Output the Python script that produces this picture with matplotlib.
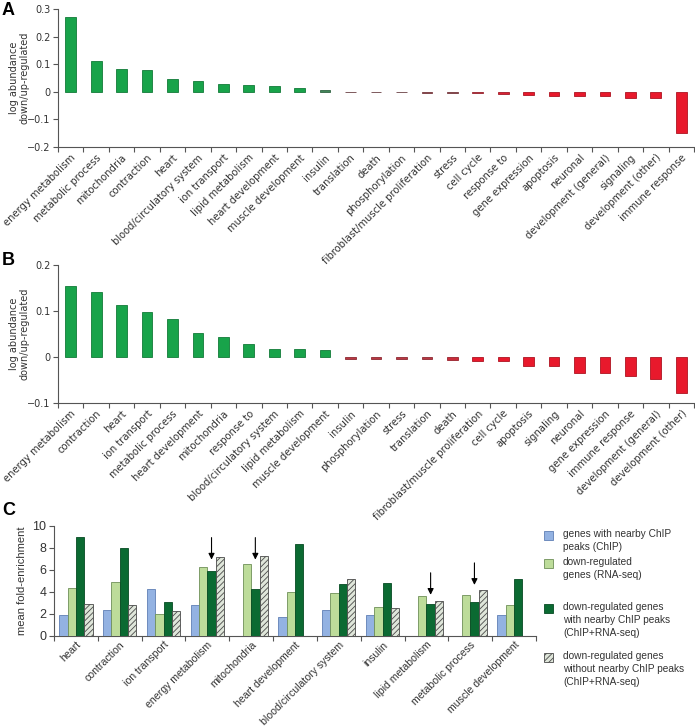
import numpy as np
import matplotlib
matplotlib.use("Agg")
import matplotlib.pyplot as plt
from matplotlib.colors import LinearSegmentedColormap, TwoSlopeNorm, to_rgb
from matplotlib.patches import Rectangle

# ---------------- data ----------------
cats_a = ["energy metabolism", "metabolic process", "mitochondria", "contraction", "heart",
          "blood/circulatory system", "ion transport", "lipid metabolism", "heart development",
          "muscle development", "insulin", "translation", "death", "phosphorylation",
          "fibroblast/muscle proliferation", "stress", "cell cycle", "response to",
          "gene expression", "apoptosis", "neuronal", "development (general)", "signaling",
          "development (other)", "immune response"]
vals_a = [0.270, 0.111, 0.081, 0.078, 0.046, 0.039, 0.027, 0.024, 0.022, 0.012, 0.006,
          -0.002, -0.002, -0.002, -0.003, -0.003, -0.006, -0.007, -0.010, -0.014, -0.014,
          -0.015, -0.022, -0.024, -0.148]

cats_b = ["energy metabolism", "contraction", "heart", "ion transport", "metabolic process",
          "heart development", "mitochondria", "response to", "blood/circulatory system",
          "lipid metabolism", "muscle development", "insulin", "phosphorylation", "stress",
          "translation", "death", "fibroblast/muscle proliferation", "cell cycle", "apoptosis",
          "signaling", "neuronal", "gene expression", "immune response",
          "development (general)", "development (other)"]
vals_b = [0.155, 0.141, 0.112, 0.097, 0.082, 0.053, 0.043, 0.028, 0.018, 0.018, 0.015,
          -0.005, -0.005, -0.005, -0.005, -0.006, -0.008, -0.008, -0.019, -0.020, -0.034,
          -0.034, -0.041, -0.047, -0.079]

cats_c = ["heart", "contraction", "ion transport", "energy metabolism", "mitochondria",
          "heart development", "blood/circulatory system", "insulin", "lipid metabolism",
          "metabolic process", "muscle development"]
chip = [1.9, 2.3, 4.25, 2.8, np.nan, 1.7, 2.35, 1.9, np.nan, np.nan, 1.85]
rnaseq = [4.3, 4.9, 1.95, 6.2, 6.5, 3.95, 3.9, 2.55, 3.55, 3.65, 2.8]
chip_rna = [9.0, 7.95, 3.05, 5.9, 4.25, 8.3, 4.7, 4.8, 2.9, 3.05, 5.1]
no_chip_rna = [2.85, 2.8, 2.2, 7.15, 7.25, np.nan, 5.1, 2.5, 3.15, 4.1, np.nan]
legend_c = ["genes with nearby ChIP\npeaks (ChIP)",
            "down-regulated\ngenes (RNA-seq)",
            "down-regulated genes\nwith nearby ChIP peaks\n(ChIP+RNA-seq)",
            "down-regulated genes\nwithout nearby ChIP peaks\n(ChIP+RNA-seq)"]
arrow_cats = ["energy metabolism", "mitochondria", "lipid metabolism", "metabolic process"]
arrow_tips = [6.9, 6.9, 3.7, 4.6]

# ---------------- style ----------------
TXT = "#333333"
SPN = "#555555"
plt.rcParams["hatch.linewidth"] = 0.6

fig = plt.figure(figsize=(6.95, 7.26), dpi=100)
W, H = 695.0, 726.0

def ax_px(l, t, r, b):
    return fig.add_axes([l / W, 1 - b / H, (r - l) / W, (b - t) / H])

cmap = LinearSegmentedColormap.from_list("rg", ["#e8192c", "#6e6868", "#18a34a"])
norm = TwoSlopeNorm(vmin=-0.008, vcenter=0.0, vmax=0.012)

def style_ab(ax, cats, ylim, yticks, ylabels):
    n = len(cats)
    ax.set_xlim(-0.5, n - 0.5)
    ax.set_ylim(*ylim)
    for s in ["top", "right"]:
        ax.spines[s].set_visible(False)
    for s in ["left", "bottom"]:
        ax.spines[s].set_color(SPN)
        ax.spines[s].set_linewidth(0.8)
    ax.set_xticks(np.arange(n))
    ax.set_xticklabels(cats, rotation=45, ha="right", va="top", rotation_mode="anchor",
                       fontsize=7.2, color=TXT, family="DejaVu Sans")
    ax.tick_params(axis="x", which="major", length=0, pad=4)
    ax.set_xticks(np.arange(-0.5, n, 1), minor=True)
    ax.tick_params(axis="x", which="minor", length=3.5, direction="out", color=SPN, width=0.8)
    ax.set_yticks(yticks)
    ax.set_yticklabels(ylabels, fontsize=7, color=TXT, family="DejaVu Sans")
    ax.tick_params(axis="y", length=3.5, direction="out", color=SPN, width=0.8, pad=2)
    ax.set_ylabel("log abundance\ndown/up-regulated", fontsize=7, color=TXT,
                  family="DejaVu Sans", linespacing=1.1)
    ax.yaxis.set_label_coords(-0.045, 0.5)

def draw_ab(ax, cats, vals):
    x = np.arange(len(cats))
    cols = [cmap(float(np.clip(norm(v), 0, 1))) for v in vals]
    edges = [tuple(np.array(to_rgb(c)) * 0.75) for c in cols]
    ax.bar(x, vals, width=0.42, color=cols, edgecolor=edges, linewidth=0.6, zorder=3)

# Panel A
axA = ax_px(58, 9, 694, 147)
draw_ab(axA, cats_a, vals_a)
style_ab(axA, cats_a, (-0.2, 0.3), [-0.2, -0.1, 0, 0.1, 0.2, 0.3],
         ["\u22120.2", "\u22120.1", "0", "0.1", "0.2", "0.3"])

# Panel B
axB = ax_px(58, 265, 694, 403)
draw_ab(axB, cats_b, vals_b)
style_ab(axB, cats_b, (-0.1, 0.2), [-0.1, 0, 0.1, 0.2], ["\u22120.1", "0", "0.1", "0.2"])

# Panel C
axC = ax_px(54, 525.5, 536, 635.5)
xc = np.arange(len(cats_c))
w = 0.19
series = [chip, rnaseq, chip_rna, no_chip_rna]
faces = ["#93b2e2", "#bddc9a", "#0b6a32", "#dfe6da"]
edgec = ["#5f7fb5", "#6f8f58", "#064a22", "#4a4a4a"]
hatches = [None, None, None, "//////"]
for i, s in enumerate(series):
    axC.bar(xc + (i - 1.5) * w, s, width=w, color=faces[i], edgecolor=edgec[i],
            linewidth=0.6, hatch=hatches[i], zorder=3)
axC.set_xlim(-0.5, len(cats_c) - 0.5)
axC.set_ylim(0, 10)
for s in ["top", "right"]:
    axC.spines[s].set_visible(False)
for s in ["left", "bottom"]:
    axC.spines[s].set_color(SPN)
    axC.spines[s].set_linewidth(0.8)
axC.set_yticks([0, 2, 4, 6, 8, 10])
axC.set_yticklabels(["0", "2", "4", "6", "8", "10"], fontsize=9, color=TXT,
                    family="Liberation Sans")
axC.tick_params(axis="y", length=3.5, direction="out", color=SPN, width=0.8, pad=2)
axC.set_xticks(xc)
axC.set_xticklabels(cats_c, rotation=45, ha="right", va="top", rotation_mode="anchor",
                    fontsize=7.6, color=TXT, family="Liberation Sans")
axC.tick_params(axis="x", which="major", length=0, pad=3)
axC.set_xticks(np.arange(-0.5, len(cats_c), 1), minor=True)
axC.tick_params(axis="x", which="minor", length=3.5, direction="out", color=SPN, width=0.8)
axC.set_ylabel("mean fold-enrichment", fontsize=8, color=TXT, family="Liberation Sans")
axC.yaxis.set_label_coords(-0.056, 0.5)

for name, tip in zip(arrow_cats, arrow_tips):
    xi = cats_c.index(name) + 0.5 * w
    axC.annotate("", xy=(xi, tip), xytext=(xi, tip + 2.0),
                 arrowprops=dict(arrowstyle="-|>", color="black", lw=0.8,
                                 mutation_scale=9, shrinkA=0, shrinkB=0),
                 annotation_clip=False, zorder=5)

# legend for panel C (manual, figure coordinates)
leg_rows = [535, 563, 608, 657]
for i, lab in enumerate(legend_c):
    yc = leg_rows[i]
    fig.patches.append(Rectangle((544 / W, 1 - (yc + 4.5) / H), 9 / W, 9 / H,
                                 transform=fig.transFigure, facecolor=faces[i],
                                 edgecolor=edgec[i], linewidth=0.6, hatch=hatches[i]))
    fig.text(563 / W, 1 - (yc - 6) / H, lab, fontsize=7.3, color=TXT,
             family="Liberation Sans", va="top", ha="left", linespacing=1.4)

# panel letters
for lab, y in [("A", 2), ("B", 252), ("C", 502)]:
    fig.text(2 / W, 1 - y / H, lab, fontsize=13, fontweight="bold", color="black",
             family="Liberation Sans", va="top", ha="left")

fig.savefig("out.png", dpi=100)
